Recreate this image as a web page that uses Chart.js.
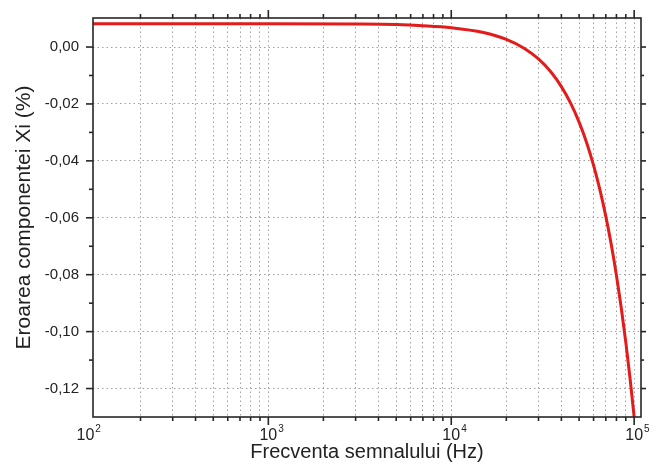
<!DOCTYPE html>
<html>
<head>
<meta charset="utf-8">
<script src="https://cdn.jsdelivr.net/npm/chart.js@4/dist/chart.umd.min.js"></script>
<style>
html, body { margin: 0; padding: 0; background: #fff; }
#wrap { width: 660px; height: 464px; }
</style>
</head>
<body>
<div id="wrap"><canvas id="errChart" width="660" height="464"></canvas></div>
<script>
// signal frequency (Hz) and error of the Xi component (%)
var freq = [110, 1000, 3000, 5000, 7000, 10000, 15000, 20000, 25000, 30000, 35000, 40000,
            45000, 50000, 55000, 60000, 65000, 70000, 75000, 80000, 85000, 90000, 95000, 100000];
var errXi = [0.0082, 0.0082, 0.0081, 0.0079, 0.0075, 0.0068, 0.0051, 0.0027, -0.0004, -0.0042, -0.0087, -0.0139,
             -0.0198, -0.0264, -0.0336, -0.0416, -0.0502, -0.0595, -0.0695, -0.0802, -0.0916, -0.1037, -0.1165, -0.1300];

var yTicks = [0, -0.02, -0.04, -0.06, -0.08, -0.10, -0.12];
var yMinor = [-0.01, -0.03, -0.05, -0.07, -0.09, -0.11];
var xDecades = [100, 1000, 10000, 100000];
var xExps = ['2', '3', '4', '5'];

var FONT = "'Liberation Sans', Arial, sans-serif";

// grid / tick positions: 2..9 of every decade plus the decades
var xGrid = [];
[100, 1000, 10000].forEach(function (d) {
    for (var m = 1; m <= 9; m++) {
        if (m * d >= 110) xGrid.push(m * d);
    }
});
xGrid.push(100000);

var frame = {
    id: 'frame',
    afterDraw: function (chart) {
        var ctx = chart.ctx, a = chart.chartArea;
        var xs = chart.scales.x, ys = chart.scales.y;
        ctx.save();
        ctx.strokeStyle = '#262626';
        ctx.lineWidth = 1.6;
        ctx.strokeRect(a.left, a.top, a.right - a.left, a.bottom - a.top);

        function seg(x1, y1, x2, y2) {
            ctx.beginPath(); ctx.moveTo(x1, y1); ctx.lineTo(x2, y2); ctx.stroke();
        }
        // x ticks, bottom and top, outward
        xGrid.forEach(function (v) {
            var px = xs.getPixelForValue(v);
            var len = xDecades.indexOf(v) >= 0 ? 8 : 4;
            seg(px, a.bottom, px, a.bottom + len);
            seg(px, a.top, px, a.top - len);
        });
        // y ticks, left and right
        yTicks.forEach(function (v) {
            var py = ys.getPixelForValue(v);
            seg(a.left, py, a.left - 7, py);
            seg(a.right, py, a.right + 5, py);
        });
        yMinor.forEach(function (v) {
            var py = ys.getPixelForValue(v);
            seg(a.left, py, a.left - 4, py);
            seg(a.right, py, a.right + 3, py);
        });

        // x labels 10^n
        ctx.fillStyle = '#222';
        xDecades.forEach(function (v, i) {
            var px = xs.getPixelForValue(v);
            ctx.font = '16px ' + FONT;
            ctx.textAlign = 'center';
            ctx.textBaseline = 'alphabetic';
            ctx.fillText('10', px, 440);
            var w = ctx.measureText('10').width;
            ctx.font = '10px ' + FONT;
            ctx.textAlign = 'left';
            ctx.fillText(xExps[i], px + w / 2 + 1, 432);
        });
        ctx.restore();
    }
};

var chrt = document.getElementById('errChart').getContext('2d');
var errChart = new Chart(chrt, {
    type: 'line',
    data: {
        labels: freq,
        datasets: [{
            label: 'Eroarea componentei Xi',
            data: freq.map(function (f, i) { return { x: f, y: errXi[i] }; }),
            borderColor: '#e31b1b',
            borderWidth: 3,
            pointRadius: 0,
            cubicInterpolationMode: 'monotone',
            fill: false
        }]
    },
    options: {
        responsive: false,
        animation: false,
        layout: { padding: { top: 18, right: 19, left: 0, bottom: 0 } },
        plugins: {
            legend: { display: false },
            tooltip: { enabled: false }
        },
        scales: {
            x: {
                type: 'logarithmic',
                min: 110,
                max: 109000,
                afterBuildTicks: function (s) {
                    s.ticks = xGrid.map(function (v) { return { value: v }; });
                },
                afterFit: function (s) { s.height = 47; },
                ticks: { display: false },
                grid: { color: '#a0a0a0', lineWidth: 1, drawTicks: false },
                border: { display: false, dash: [1.5, 3] },
                title: {
                    display: true,
                    text: 'Frecventa semnalului (Hz)',
                    color: '#222',
                    font: { family: FONT, size: 20 },
                    padding: { top: 0, bottom: 0 }
                }
            },
            y: {
                min: -0.13,
                max: 0.0102,
                afterBuildTicks: function (s) {
                    s.ticks = yTicks.map(function (v) { return { value: v }; });
                },
                afterFit: function (s) { s.width = 93; },
                ticks: {
                    color: '#222',
                    padding: 0,
                    font: { family: FONT, size: 15 },
                    callback: function (v) { return v.toFixed(2).replace('.', ','); }
                },
                grid: { color: '#a0a0a0', lineWidth: 1, drawTicks: true, tickLength: 14, tickColor: 'rgba(0,0,0,0)' },
                border: { display: false, dash: [1.5, 3] },
                title: {
                    display: true,
                    text: 'Eroarea componentei Xi (%)',
                    color: '#222',
                    font: { family: FONT, size: 21 },
                    padding: { top: 12, bottom: 0 }
                }
            }
        }
    },
    plugins: [frame]
});
</script>
</body>
</html>
